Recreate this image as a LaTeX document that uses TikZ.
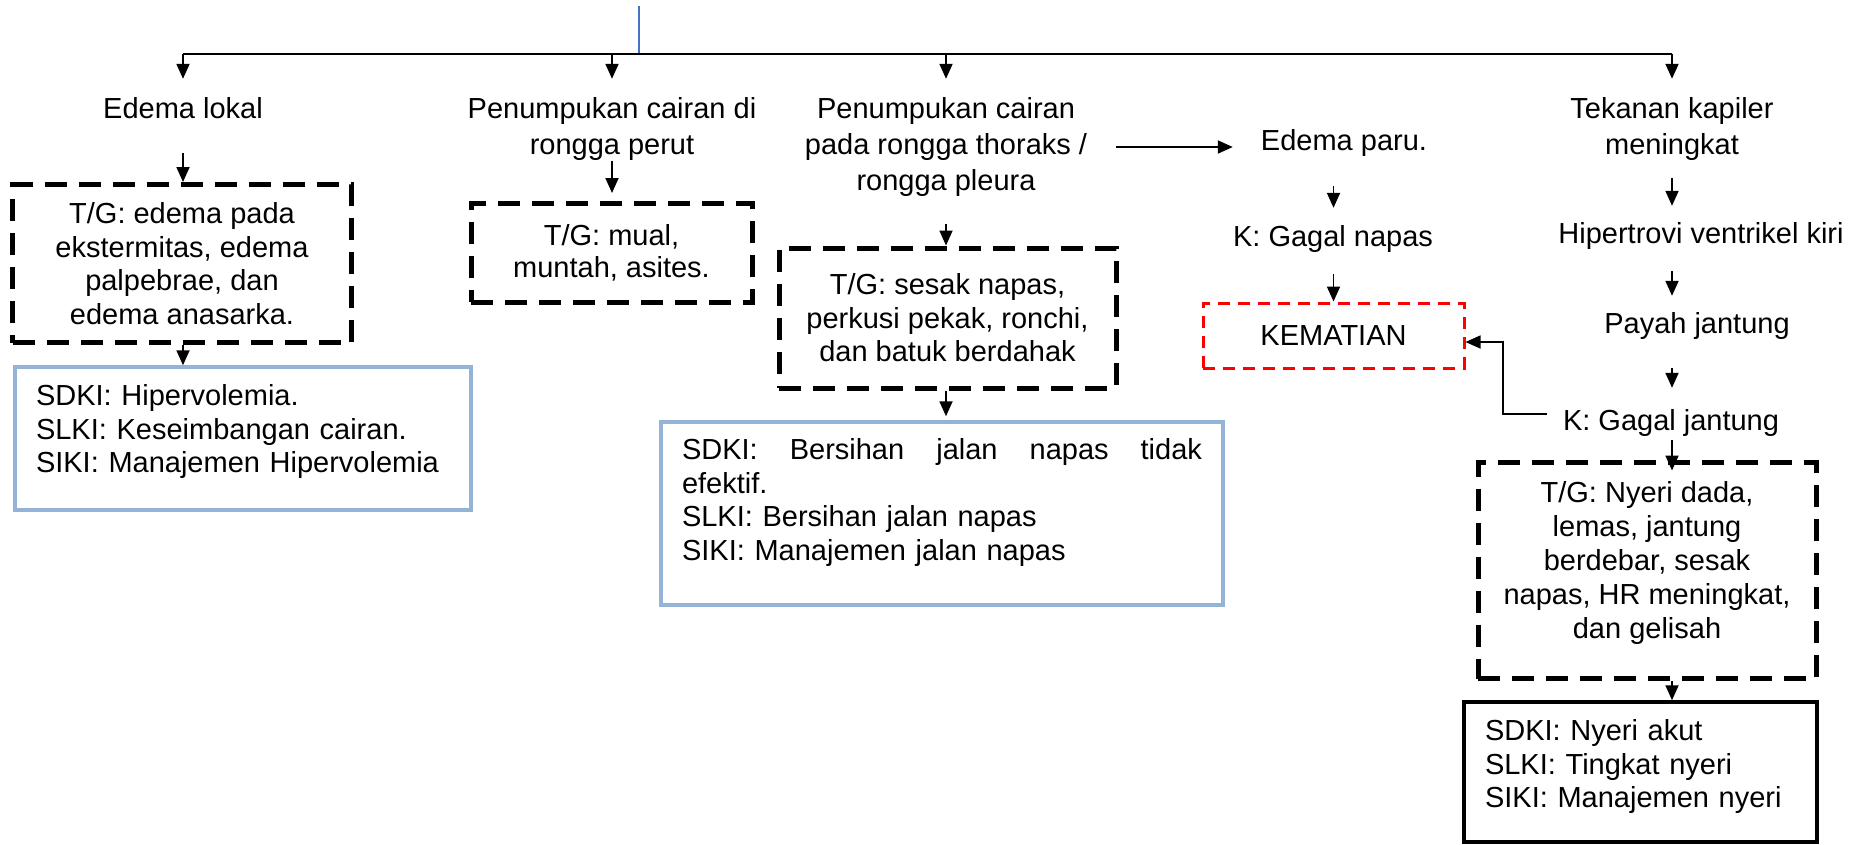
\documentclass[tikz,border=0pt]{standalone}
\usepackage{fontspec}
\setmainfont{Liberation Sans}
\usetikzlibrary{arrows.meta,calc}
\definecolor{boxblue}{RGB}{149,179,215}
\definecolor{topblue}{RGB}{68,114,196}
\definecolor{kemred}{RGB}{255,0,0}
\tikzset{
  txt/.style={inner sep=0pt, align=center, font=\fontsize{29pt}{36pt}\selectfont},
  one/.style={txt, text height=21pt, text depth=6pt},
  tip/.style={-{Triangle[length=15pt,width=13pt]}},
  arr/.style={line width=1.8pt, tip},
  dbox/.style={draw, line width=5pt, dash pattern=on 22pt off 12pt, inner sep=0pt,
    align=center, font=\fontsize{29pt}{33.5pt}\selectfont},
  bbox/.style={draw=boxblue, line width=3.5pt, inner xsep=21pt, inner ysep=0pt,
    align=left, font=\fontsize{29pt}{33.5pt}\selectfont},
  kbox/.style={bbox, draw=black},
  rbox/.style={draw=kemred, line width=3pt, dash pattern=on 12pt off 8pt, inner sep=0pt,
    font=\fontsize{29pt}{34pt}\selectfont}
}
\begin{document}
\begin{tikzpicture}[x=1pt,y=-1pt]
\useasboundingbox (0,0) rectangle (1870,844);
% top connector
\coordinate (topc) at (639,6);
\coordinate (bus) at (639,54);
% headers
\node[one] (edema) at (183,111) {Edema lokal};
\node[txt] (perut) at (612,129) {Penumpukan cairan di\\rongga perut};
\node[txt] (thoraks) at (946,147) {Penumpukan cairan\\pada rongga thoraks /\\rongga pleura};
\node[one] (paru) at (1344,143) {Edema paru.};
\node[one] (gnapas) at (1333,239) {K: Gagal napas};
\node[txt] (tekanan) at (1672,129) {Tekanan kapiler\\meningkat};
\node[one] (hiper) at (1701,236) {Hipertrovi ventrikel kiri};
\node[one] (payah) at (1697,326) {Payah jantung};
\node[one] (gjantung) at (1671,423) {K: Gagal jantung};
% boxes
\node[dbox, minimum width=339pt, minimum height=158pt] (tg1) at (182,263.5)
  {T/G: edema pada\\ekstermitas, edema\\palpebrae, dan\\edema anasarka.};
\node[dbox, minimum width=281pt, minimum height=99pt, font=\fontsize{29pt}{32pt}\selectfont] (tg2) at (611.5,252.5)
  {T/G: mual,\\muntah, asites.};
\node[dbox, minimum width=337pt, minimum height=140pt] (tg3) at (947.5,318)
  {T/G: sesak napas,\\perkusi pekak, ronchi,\\dan batuk berdahak};
\node[dbox, minimum width=338pt, minimum height=216pt, font=\fontsize{29pt}{34pt}\selectfont] (tg5) at (1647,570.5)
  {T/G: Nyeri dada,\\lemas, jantung\\berdebar, sesak\\napas, HR meningkat,\\dan gelisah\rule[-21pt]{0pt}{0pt}};
\node[rbox, minimum width=261pt, minimum height=65pt] (kem) at (1333.5,335.5) {KEMATIAN};
\node[bbox, text width=414pt, minimum height=143pt] (sdki1) at (243,438.5)
  {SDKI: Hipervolemia.\\SLKI: Keseimbangan cairan.\\SIKI: Manajemen Hipervolemia\rule[-20pt]{0pt}{0pt}};
\node[bbox, text width=520pt, minimum height=183pt] (sdki2) at (942,513.5)
  {\hbox to 520pt{SDKI:\hfill Bersihan\hfill jalan\hfill napas\hfill tidak}\\efektif.\\SLKI: Bersihan jalan napas\\SIKI: Manajemen jalan napas\rule[-28pt]{0pt}{0pt}};
\node[kbox, text width=311pt, minimum height=140pt] (sdki3) at (1640.5,772)
  {SDKI: Nyeri akut\\SLKI: Tingkat nyeri\\SIKI: Manajemen nyeri\rule[-17pt]{0pt}{0pt}};
% connectors
\draw[topblue, line width=1.5pt] (topc) -- (bus);
\draw[line width=2.2pt] (edema.north |- bus) -- (tekanan.north |- bus);
\draw[arr, shorten >=18.5pt] (edema.north |- bus) -- (edema.north);
\draw[arr, shorten >=18.5pt] (perut.north |- bus) -- (perut.north);
\draw[arr, shorten >=18.5pt] (thoraks.north |- bus) -- (thoraks.north);
\draw[arr, shorten >=18.5pt] (tekanan.north |- bus) -- (tekanan.north);
\draw[arr, shorten <=28.5pt] (edema.south) -- (edema.south |- tg1.north);
\draw[arr] (tg1.south -| edema.south) -- (sdki1.north -| edema.south);
\draw[arr, shorten >=7.5pt] (perut.south) -- (perut.south |- tg2.north);
\draw[arr, shorten <=27.5pt] (thoraks.south) -- (thoraks.south |- tg3.north);
\draw[arr, shorten >=4pt] (tg3.south -| thoraks.south) -- (sdki2.north -| thoraks.south);
\draw[arr, shorten <=29pt, shorten >=28pt] (thoraks.east) -- (thoraks.east -| paru.west);
\draw[arr, shorten <=29.5pt, shorten >=17.5pt] (paru.south -| kem.north) -- (gnapas.north -| kem.north);
\draw[arr, shorten <=21.5pt] (gnapas.south -| kem.north) -- (kem.north);
\coordinate (bend) at (1503,414);
\draw[line width=1.5pt, tip] ([xshift=-16pt,yshift=9pt]gjantung.west) -- (bend) |- ([yshift=-6.5pt]kem.east);
\draw[arr, shorten <=17.5pt, shorten >=16.5pt] (tekanan.south) -- (tekanan.south |- hiper.north);
\draw[arr, shorten <=21.5pt, shorten >=16.5pt] (hiper.south -| tekanan.south) -- (payah.north -| tekanan.south);
\draw[arr, shorten <=28.5pt, shorten >=21.5pt] (payah.south -| tekanan.south) -- (gjantung.north -| tekanan.south);
\draw[arr, shorten <=3.5pt, shorten >=-10.5pt] (gjantung.south -| tekanan.south) -- (tg5.north -| tekanan.south);
\draw[arr] (tg5.south -| tekanan.south) -- (sdki3.north -| tekanan.south);
\end{tikzpicture}
\end{document}
